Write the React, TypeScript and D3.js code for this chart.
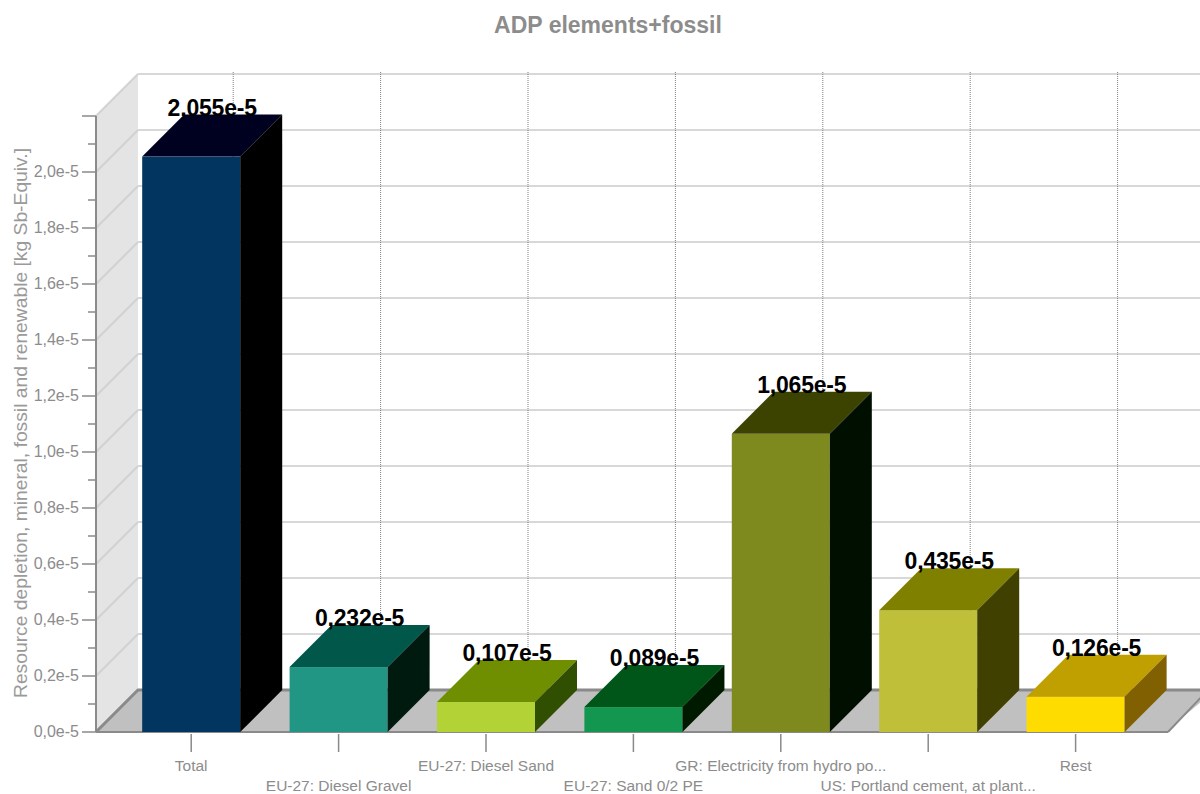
import React from "react";
import * as d3 from "d3";

const title = "ADP elements+fossil";
const yAxisTitle = "Resource depletion, mineral, fossil and renewable [kg Sb-Equiv.]";
const categories = [
  "Total",
  "EU-27: Diesel Gravel",
  "EU-27: Diesel Sand",
  "EU-27: Sand 0/2 PE",
  "GR: Electricity from hydro po...",
  "US: Portland cement, at plant...",
  "Rest",
];
const values = [2.055e-5, 0.232e-5, 0.107e-5, 0.089e-5, 1.065e-5, 0.435e-5, 0.126e-5];
const frontColors = ["#02355f", "#229684", "#b2d235", "#129650", "#7e8a1e", "#bfbf3a", "#ffdc00"];
const topColors = ["#000020", "#00574a", "#6f8f00", "#005519", "#3c4300", "#808000", "#c0a000"];
const sideColors = ["#000000", "#001a10", "#314f00", "#001a00", "#000f00", "#404000", "#806000"];
const yTicks = [0, 0.2e-5, 0.4e-5, 0.6e-5, 0.8e-5, 1.0e-5, 1.2e-5, 1.4e-5, 1.6e-5, 1.8e-5, 2.0e-5];
const yMax = 2.2e-5;

const W = 1200;
const H = 794;
const DX = 42;
const DY = 42;
const axisX = 96;
const baseY = 732;
const topY = 116;
const wallRight = 1215;
const floorFrontRight = 1168;

const fmt = (v: number, d: number) => (v / 1e-5).toFixed(d).replace(".", ",") + "e-5";

export default function App() {
  const y = d3.scaleLinear().domain([0, yMax]).range([baseY, topY]);
  const x = d3.scaleBand<string>().domain(categories).range([117.5, 1149.3]).padding(0);
  const bw = x.bandwidth() * 0.665;
  const minorTicks = d3.range(0, 23).map((i) => i * 0.1e-5);
  const gridTicks = [...yTicks, yMax];
  const font = "'Liberation Sans', Arial, sans-serif";

  return (
    <svg width={W} height={H} style={{ position: "absolute", left: 0, top: 0 }} fontFamily={font}>
      <rect x={0} y={0} width={W} height={H} fill="#ffffff" />
      <text x={608} y={33} textAnchor="middle" fontSize={23} fontWeight="bold" fill="#8c8c8c">
        {title}
      </text>

      {/* left wall */}
      <polygon
        points={`${axisX},${topY} ${axisX + DX},${topY - DY} ${axisX + DX},${baseY - DY} ${axisX},${baseY}`}
        fill="#e4e4e4"
      />
      {/* grid lines: diagonal on left wall, horizontal on back wall */}
      {gridTicks.map((t, i) => (
        <g key={"g" + i}>
          <line x1={axisX} y1={y(t)} x2={axisX + DX} y2={y(t) - DY} stroke="#d2d2d2" strokeWidth={2} />
          <line x1={axisX + DX} y1={y(t) - DY} x2={wallRight} y2={y(t) - DY} stroke="#d8d8d8" strokeWidth={2} />
        </g>
      ))}
      {/* dotted category lines on back wall */}
      {categories.map((c, i) => {
        const cx = (x(c) as number) + x.bandwidth() / 2 + DX;
        return (
          <line
            key={"v" + i}
            x1={cx}
            y1={y(yMax) - DY - 2}
            x2={cx}
            y2={baseY - DY}
            stroke="#808080"
            strokeWidth={1}
            strokeDasharray="1,1"
          />
        );
      })}

      {/* floor */}
      <polygon
        points={`${axisX},${baseY} ${axisX + DX},${baseY - DY} ${wallRight},${baseY - DY} ${floorFrontRight + 15},${baseY - 15} ${floorFrontRight},${baseY}`}
        fill="#c0c0c0"
      />
      <polyline
        points={`${axisX},${baseY} ${axisX + DX},${baseY - DY} ${wallRight},${baseY - DY}`}
        fill="none"
        stroke="#8a8a8a"
        strokeWidth={3}
      />
      <line x1={wallRight - 7} y1={baseY - DY} x2={floorFrontRight} y2={baseY} stroke="#8a8a8a" strokeWidth={2} />
      <line x1={axisX} y1={baseY} x2={floorFrontRight} y2={baseY} stroke="#8a8a8a" strokeWidth={2} />

      {/* y axis */}
      <line x1={axisX} y1={topY} x2={axisX} y2={baseY} stroke="#8a8a8a" strokeWidth={2} />
      {minorTicks.map((t, i) => (
        <line
          key={"m" + i}
          x1={i % 2 === 0 ? 82 : 88}
          y1={y(t)}
          x2={axisX}
          y2={y(t)}
          stroke="#8a8a8a"
          strokeWidth={1.5}
        />
      ))}
      {yTicks.map((t, i) => (
        <text key={"t" + i} x={79} y={y(t) + 5} textAnchor="end" fontSize={16} fill="#8c8c8c">
          {fmt(t, 1)}
        </text>
      ))}
      <text
        transform={`translate(27,423) rotate(-90)`}
        textAnchor="middle"
        fontSize={19}
        textLength={550}
        lengthAdjust="spacingAndGlyphs"
        fill="#9a9a9a"
      >
        {yAxisTitle}
      </text>

      {/* x ticks and labels */}
      {categories.map((c, i) => {
        const cx = (x(c) as number) + x.bandwidth() / 2;
        return (
          <g key={"x" + i}>
            <line x1={cx} y1={baseY + 2} x2={cx} y2={752} stroke="#8a8a8a" strokeWidth={1.5} />
            <text x={cx} y={i % 2 === 0 ? 771 : 791} textAnchor="middle" fontSize={15.5} fill="#8c8c8c">
              {c}
            </text>
          </g>
        );
      })}

      {/* bars */}
      {categories.map((c, i) => {
        const cx = (x(c) as number) + x.bandwidth() / 2;
        const x0 = cx - bw / 2;
        const x1 = cx + bw / 2;
        const yt = y(values[i]);
        return (
          <g key={"b" + i}>
            <rect x={x0} y={yt} width={bw} height={baseY - yt} fill={frontColors[i]} />
            <polygon
              points={`${x0},${yt} ${x0 + DX},${yt - DY} ${x1 + DX},${yt - DY} ${x1},${yt}`}
              fill={topColors[i]}
            />
            <polygon
              points={`${x1},${yt} ${x1 + DX},${yt - DY} ${x1 + DX},${baseY - DY} ${x1},${baseY}`}
              fill={sideColors[i]}
            />
          </g>
        );
      })}

      {/* value labels */}
      {categories.map((c, i) => {
        const cx = (x(c) as number) + x.bandwidth() / 2 + DX / 2;
        return (
          <text
            key={"l" + i}
            x={cx}
            y={y(values[i]) - DY + 1}
            textAnchor="middle"
            fontSize={23}
            fontWeight="bold"
            letterSpacing={-0.2}
            fill="#000000"
          >
            {fmt(values[i], 3)}
          </text>
        );
      })}
    </svg>
  );
}
